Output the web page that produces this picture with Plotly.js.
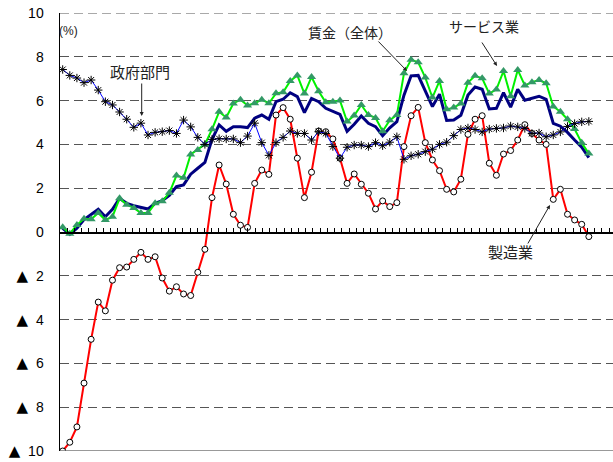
<!DOCTYPE html>
<html>
<head>
<meta charset="utf-8">
<script src="https://cdn.plot.ly/plotly-3.0.1.min.js"></script>
<style>html,body{margin:0;padding:0;background:#fff;}#chart{width:613px;height:462px;}</style>
</head>
<body>
<div id="chart"></div>
<script>
// ---- data ----
const periods = Array.from({length: 75}, (_, i) => i);

const wageTotal = [0.17,-0.1,0.17,0.57,0.8,1.04,0.7,1.04,1.54,1.31,1.2,1.13,1.05,1.31,1.43,1.67,2.07,2.15,2.64,2.91,
  3.18,4.23,4.89,4.6,4.81,4.81,4.77,5.2,5.34,5.15,5.95,6.06,6.36,6.18,5.45,6.1,5.95,5.65,5.52,5.37,
  4.6,4.92,5.3,4.96,4.81,4.4,4.76,5.04,6.25,7.13,7.15,6.4,5.73,6.29,5.09,5.11,5.33,6.25,6.62,6.52,
  5.62,5.65,6.36,5.7,6.51,6.02,6.12,6.2,6.06,4.96,4.83,4.55,4.2,3.87,3.4];

const services = [0.22,-0.08,0.32,0.6,0.58,0.87,0.55,0.7,1.54,1.25,1.1,0.87,0.87,1.31,1.4,1.79,2.58,2.48,3.54,3.75,
  4.0,4.69,5.49,5.23,5.87,6.04,5.78,5.88,6.04,5.88,6.33,6.38,6.9,7.15,6.32,7.08,6.43,5.92,5.95,6.0,
  5.04,5.32,5.8,5.34,5.21,4.6,5.1,5.34,7.25,7.87,7.75,7.05,6.14,6.9,5.6,5.68,5.87,6.82,7.13,7.02,
  6.32,6.51,7.35,6.2,7.4,6.69,6.84,6.94,6.79,5.73,5.49,5.15,4.7,4.07,3.58];

const manufacturing = [-10.0,-9.6,-8.9,-6.9,-4.9,-3.2,-3.6,-2.2,-1.63,-1.6,-1.25,-0.93,-1.25,-1.13,-2.1,-2.7,-2.5,-2.83,-2.9,-1.84,
  -0.79,1.57,3.06,2.19,0.81,0.31,0.21,2.22,2.83,2.63,5.34,5.68,5.15,3.37,1.57,2.73,4.61,4.58,4.25,3.37,
  2.22,2.65,2.18,1.77,1.05,1.42,1.16,1.34,3.9,5.31,5.69,4.08,3.29,2.8,1.95,1.83,2.41,4.46,5.15,5.31,
  3.14,2.59,3.56,3.72,4.2,4.9,4.5,4.2,4.0,1.49,1.95,0.81,0.55,0.35,-0.21];

const government = [7.42,7.15,7.03,6.82,6.94,6.48,5.95,5.8,5.48,5.15,4.78,4.97,4.43,4.55,4.58,4.63,4.5,5.11,4.8,4.32,
  4.0,4.23,4.26,4.25,4.25,4.08,4.38,4.97,4.08,3.5,4.08,4.32,4.61,4.5,4.5,4.2,4.58,4.5,3.9,3.37,
  3.87,3.97,3.97,3.9,4.08,3.94,4.1,4.35,3.32,3.48,3.55,3.67,3.78,4.0,4.1,4.4,4.68,4.75,4.68,4.57,
  4.7,4.73,4.75,4.84,4.8,4.73,4.5,4.52,4.35,4.43,4.57,4.82,4.95,5.03,5.05];

const yTickVals = [-10,-8,-6,-4,-2,0,2,4,6,8,10];
const yTickText = ['▲ 10','▲ 8','▲ 6','▲ 4','▲ 2','0','2','4','6','8','10'];

const seriesNames = ['賃金（全体）','サービス業','製造業','政府部門'];

// ---- helpers for placing labels in pixel terms ----
const W = 613, H = 462, ML = 60, MR = 0, MT = 13, MB = 11;
const px = x => (x - ML) / (W - ML - MR);
const py = y => (H - MB - y) / (H - MT - MB);

const jp = '"Noto Sans CJK JP", "Noto Sans", sans-serif';

// enlarge the triangle sign like the reference
const yTickShown = yTickText.map(t => t.replace('▲ ', '<span style="font-family:DejaVu Sans;font-size:15px">▲</span>\u00a0\u00a0'));

const traces = [
  {x: periods, y: wageTotal, name: seriesNames[0], type: 'scatter', mode: 'lines',
   line: {color: '#000080', width: 3}},
  {x: periods, y: services, name: seriesNames[1], type: 'scatter', mode: 'lines+markers',
   line: {color: '#00f000', width: 2},
   marker: {symbol: 'triangle-up', size: 8, color: '#339966'}},
  {x: periods, y: manufacturing, name: seriesNames[2], type: 'scatter', mode: 'lines+markers',
   line: {color: '#ff0000', width: 2},
   marker: {symbol: 'circle', size: 6, color: '#ffffff', line: {color: '#000000', width: 1}}},
  {x: periods, y: government, name: seriesNames[3], type: 'scatter', mode: 'lines+markers',
   line: {color: '#0000ff', width: 1},
   marker: {symbol: 'asterisk-open', size: 7, color: '#000000', line: {color: '#111111', width: 1}}}
];

function label(text, x, y, size) {
  return {text: text, xref: 'paper', yref: 'paper', x: px(x), y: py(y),
    xanchor: 'center', yanchor: 'middle', showarrow: false,
    font: {family: jp, size: size, color: '#222'}};
}
function arrow(tipX, tipY, tailX, tailY) {
  return {text: '', xref: 'paper', yref: 'paper', x: px(tipX), y: py(tipY),
    axref: 'pixel', ayref: 'pixel', ax: tailX - tipX, ay: tailY - tipY,
    showarrow: true, arrowhead: 2, arrowsize: 0.8, arrowwidth: 1, arrowcolor: '#222'};
}

const layout = {
  width: W, height: H,
  margin: {l: ML, r: MR, t: MT, b: MB, pad: 0},
  paper_bgcolor: '#ffffff', plot_bgcolor: '#ffffff',
  showlegend: false, hovermode: false,
  xaxis: {
    range: [-0.38, 77.4], anchor: 'free', position: 0.5,
    showline: true, linecolor: '#000', linewidth: 1.5,
    ticks: 'inside', ticklen: 4, tickwidth: 1, tickcolor: '#000',
    tick0: 2.67, dtick: 1.0163, showticklabels: false,
    showgrid: false, zeroline: false, fixedrange: true
  },
  yaxis: {
    range: [-10, 10], tickmode: 'array', tickvals: yTickVals, ticktext: yTickShown,
    showline: true, linecolor: '#000', linewidth: 1.5, ticks: '',
    showgrid: true, gridcolor: '#555', gridwidth: 1, griddash: '9px,5px',
    zeroline: false, ticklabelstandoff: 12,
    tickfont: {family: '"Liberation Sans", Arial, sans-serif', size: 14, color: '#000'},
    fixedrange: true
  },
  shapes: [
    {type: 'line', xref: 'paper', x0: 0, x1: 1, yref: 'y', y0: -10, y1: -10,
     line: {color: '#777', width: 1.5}},
    {type: 'line', xref: 'paper', x0: 0, x1: 1, yref: 'y', y0: 10, y1: 10,
     line: {color: '#555', width: 1, dash: '9px,5px'}}
  ],
  annotations: [
    {text: '(%)', xref: 'paper', yref: 'paper', x: px(68), y: py(31), xanchor: 'center', yanchor: 'middle',
     showarrow: false, font: {family: '"Liberation Sans", Arial, sans-serif', size: 12, color: '#222'}},
    label('政府部門', 140, 71, 15),
    label('賃金（全体）', 350, 32, 14),
    label('サービス業', 484, 26, 14),
    label('製造業', 510, 251, 15),
    arrow(141.7, 116, 141.7, 82),
    arrow(407, 71, 377, 40),
    arrow(497, 66, 481, 41),
    arrow(550, 205, 527, 245)
  ]
};

Plotly.newPlot('chart', traces, layout, {displayModeBar: false, staticPlot: true});
</script>
</body>
</html>
